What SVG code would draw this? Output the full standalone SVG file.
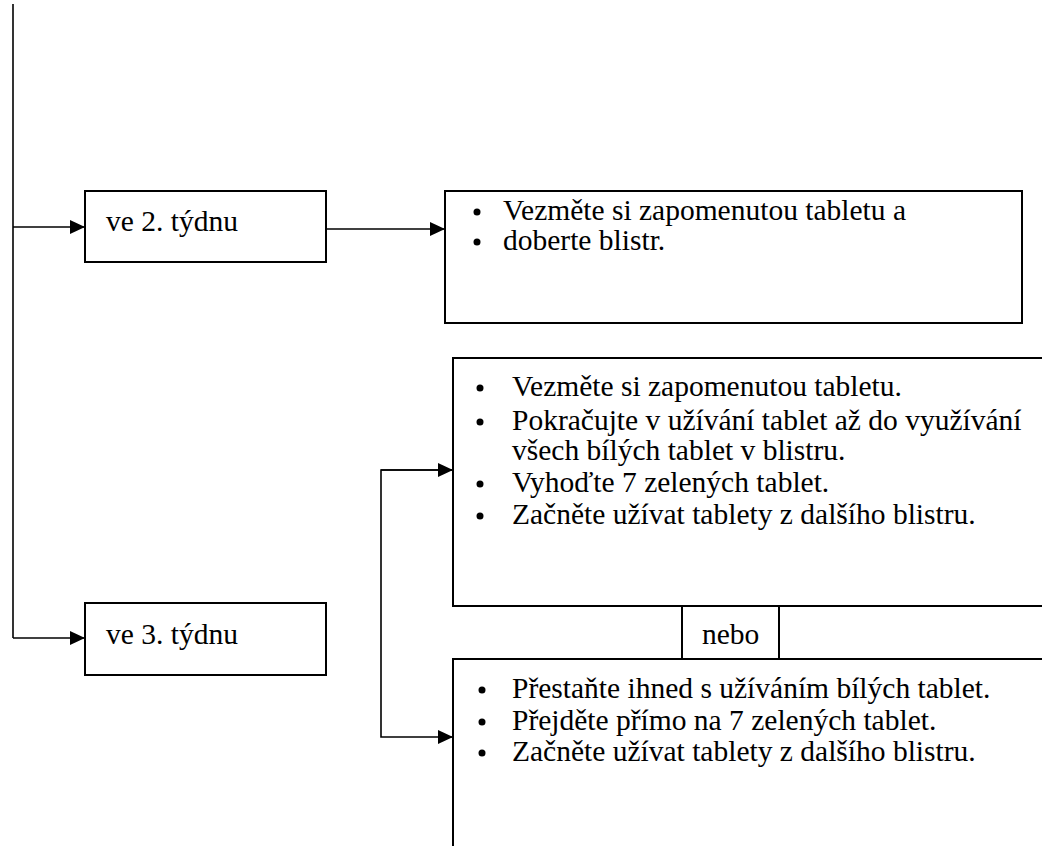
<svg xmlns="http://www.w3.org/2000/svg" width="1042" height="846" viewBox="0 0 1042 846">
<style>
.box{fill:#fff;stroke:#000;stroke-width:2}
.con{fill:none;stroke:#000;stroke-width:1.6}
.t{font-family:"Liberation Serif","Times New Roman",serif;font-size:29.5px;fill:#000}
.b{fill:#000}
</style>
<defs>
<marker id="ah" markerUnits="userSpaceOnUse" markerWidth="16" markerHeight="14" refX="15" refY="7" orient="auto" viewBox="0 0 16 14">
<path d="M0,0 L15,7 L0,14 Z" fill="#000"/>
</marker>
</defs>
<rect width="1042" height="846" fill="#fff"/>
<g id="connectors">
<path class="con" d="M13,4 V638"/>
<path class="con" d="M13,227 H85" marker-end="url(#ah)"/>
<path class="con" d="M13,638 H85" marker-end="url(#ah)"/>
<path class="con" d="M326,229 H445" marker-end="url(#ah)"/>
<path class="con" d="M453,470 H381 V737 H453" marker-end="url(#ah)"/>
<path class="con" d="M381,470 H453" marker-end="url(#ah)"/>
</g>
<g id="week2">
<rect class="box" x="85" y="191" width="241" height="71"/>
<text class="t" x="106" y="231">ve 2. týdnu</text>
</g>
<g id="week3">
<rect class="box" x="85" y="603" width="241" height="72"/>
<text class="t" x="106" y="644">ve 3. týdnu</text>
</g>
<g id="action2">
<rect class="box" x="445" y="191" width="577" height="132"/>
<circle class="b" cx="477" cy="212" r="3.5"/>
<text class="t" x="503" y="220">Vezměte si zapomenutou tabletu a</text>
<circle class="b" cx="477" cy="242" r="3.5"/>
<text class="t" x="503" y="250">doberte blistr.</text>
</g>
<g id="option1">
<rect class="box" x="453" y="358" width="600" height="248"/>
<circle class="b" cx="480" cy="388" r="3.5"/>
<text class="t" x="512" y="396">Vezměte si zapomenutou tabletu.</text>
<circle class="b" cx="480" cy="422" r="3.5"/>
<text class="t" x="512" y="430">Pokračujte v užívání tablet až do využívání</text>
<text class="t" x="512" y="460">všech bílých tablet v blistru.</text>
<circle class="b" cx="480" cy="484" r="3.5"/>
<text class="t" x="512" y="492">Vyhoďte 7 zelených tablet.</text>
<circle class="b" cx="480" cy="516" r="3.5"/>
<text class="t" x="512" y="524">Začněte užívat tablety z dalšího blistru.</text>
</g>
<g id="or">
<rect class="box" x="682" y="606" width="97" height="53"/>
<text class="t" x="702" y="644">nebo</text>
</g>
<g id="option2">
<rect class="box" x="453" y="659" width="600" height="200"/>
<circle class="b" cx="482" cy="690" r="3.5"/>
<text class="t" x="512" y="698">Přestaňte ihned s užíváním bílých tablet.</text>
<circle class="b" cx="482" cy="722" r="3.5"/>
<text class="t" x="512" y="730">Přejděte přímo na 7 zelených tablet.</text>
<circle class="b" cx="482" cy="753" r="3.5"/>
<text class="t" x="512" y="761">Začněte užívat tablety z dalšího blistru.</text>
</g>
</svg>
